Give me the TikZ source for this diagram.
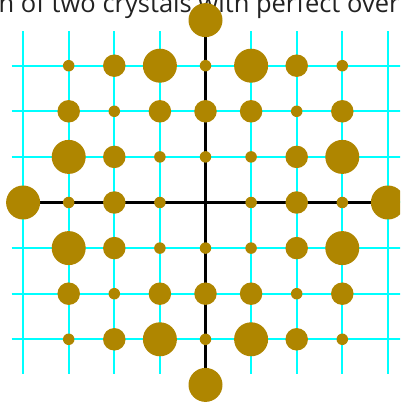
\documentclass[tikz,border=0pt]{standalone}
\usepackage{fontspec}
\setmainfont{Open Sans}
\usetikzlibrary{positioning}
\definecolor{latgold}{RGB}{175,134,0}
\definecolor{latcyan}{RGB}{0,255,255}
\definecolor{captgray}{RGB}{34,34,34}

\begin{document}
\begin{tikzpicture}[x=45.6pt,y=45.6pt,
  gline/.style={line width=2pt,latcyan},
  aline/.style={line width=2.5pt,black},
  dot/.style={circle,fill=latgold,inner sep=0pt},
  dL/.style={dot,minimum size=34pt},
  dM/.style={dot,minimum size=22.5pt},
  dS/.style={dot,minimum size=11.5pt},
  capt/.style={font=\fontsize{25.5}{30}\selectfont,text=captgray,inner sep=0pt}]
\useasboundingbox (-205.5pt,-200.5pt) rectangle (194.5pt,202.5pt);
\clip (-205.5pt,-200.5pt) rectangle (194.5pt,202.5pt);
\node[capt,anchor=base west] (title) at (-207pt,189.5pt) {n of two crystals with perfect over};
% lattice lines
\foreach \i in {-4,...,4} \draw[gline] (\i,-3.75) -- (\i,3.75);
\foreach \j in {-3,...,3} \draw[gline] (-4.25,\j) -- (4.5,\j);
% axes
\coordinate (top) at (0,4);
\coordinate (bot) at (0,-4);
\coordinate (lft) at (-4,0);
\coordinate (rgt) at (4,0);
\draw[aline] (top) -- (bot);
\draw[aline] (lft) -- (rgt);
% lattice sites
\foreach \p/\q in {1/3,-1/3,1/-3,-1/-3,3/1,-3/1,3/-1,-3/-1,0/4,0/-4,4/0,-4/0}
  \node[dL] (L\p\q) at (\p,\q) {};
\foreach \p/\q in {2/3,-2/3,2/-3,-2/-3,3/2,-3/2,3/-2,-3/-2,1/2,-1/2,1/-2,-1/-2,2/1,-2/1,2/-1,-2/-1,0/2,0/-2,2/0,-2/0}
  \node[dM] (M\p\q) at (\p,\q) {};
\foreach \p/\q in {3/3,-3/3,3/-3,-3/-3,0/3,0/-3,2/2,-2/2,2/-2,-2/-2,1/1,-1/1,1/-1,-1/-1,0/1,0/-1,1/0,-1/0,3/0,-3/0}
  \node[dS] (S\p\q) at (\p,\q) {};
\end{tikzpicture}
\end{document}
